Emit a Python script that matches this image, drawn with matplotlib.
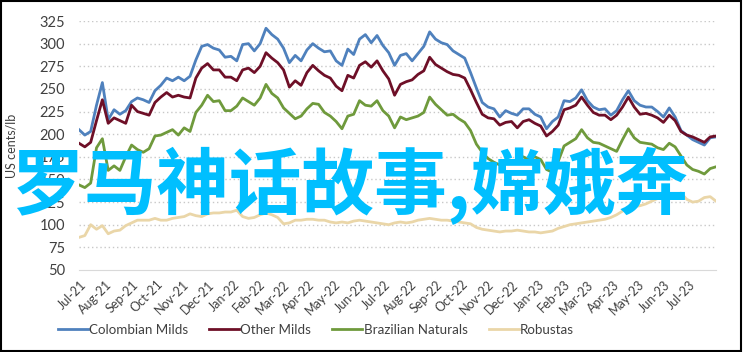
import numpy as np
import pandas as pd
import matplotlib
matplotlib.use("Agg")
import matplotlib.pyplot as plt
import matplotlib.dates as mdates
from matplotlib.patches import Rectangle

plt.rcParams['font.family'] = ['Lato', 'DejaVu Sans']

# weekly prices, US cents/lb
dates = pd.date_range('2021-06-30', periods=110, freq='7D')

colombian = [205, 199, 203, 232, 257, 216, 227, 222, 226, 236,
             240, 238, 235, 248, 254, 262, 259, 263, 259, 264,
             282, 297, 299, 295, 293, 285, 286, 281, 299, 300,
             292, 300, 317, 310, 305, 295, 279, 287, 281, 293,
             300, 295, 291, 292, 281, 276, 294, 288, 305, 310,
             301, 309, 298, 290, 276, 287, 289, 281, 289, 297,
             313, 305, 301, 299, 292, 288, 284, 268, 251, 235,
             230, 228, 219, 226, 223, 221, 228, 228, 222, 219,
             206, 214, 219, 237, 236, 240, 249, 237, 230, 227,
             228, 221, 226, 238, 248, 237, 232, 230, 230, 225,
             219, 229, 219, 204, 199, 194, 191, 188, 196, 197]

other_milds = [190, 186, 191, 215, 238, 212, 218, 215, 212, 232,
               225, 223, 221, 235, 241, 246, 241, 243, 241, 240,
               262, 273, 278, 271, 271, 263, 263, 259, 271, 273,
               268, 275, 290, 284, 279, 271, 252, 259, 254, 268,
               276, 270, 265, 262, 253, 248, 265, 262, 276, 280,
               274, 281, 270, 261, 243, 255, 258, 260, 266, 270,
               285, 277, 273, 269, 266, 265, 262, 249, 235, 222,
               218, 217, 210, 213, 214, 207, 214, 216, 212, 209,
               198, 203, 210, 227, 229, 232, 241, 232, 224, 221,
               221, 216, 221, 230, 241, 230, 222, 223, 221, 218,
               213, 221, 215, 203, 199, 197, 194, 191, 197, 198]

brazilian = [144, 141, 146, 185, 195, 160, 165, 160, 175, 188,
             183, 180, 184, 198, 199, 202, 205, 199, 207, 203,
             224, 232, 243, 236, 237, 226, 226, 231, 240, 236,
             232, 240, 255, 245, 240, 229, 223, 217, 220, 228,
             234, 233, 224, 220, 214, 206, 220, 222, 237, 232,
             231, 237, 226, 220, 207, 219, 216, 218, 220, 224,
             241, 233, 227, 221, 222, 217, 213, 204, 189, 180,
             173, 169, 166, 168, 170, 171, 175, 172, 175, 172,
             161, 158, 170, 187, 191, 195, 205, 196, 191, 190,
             187, 184, 181, 194, 206, 196, 191, 190, 189, 185,
             183, 190, 186, 176, 166, 161, 159, 156, 162, 164]

robustas = [86, 88, 100, 95, 99, 90, 93, 94, 99, 102,
            105, 105, 105, 107, 105, 105, 107, 108, 109, 112,
            110, 109, 112, 113, 113, 114, 114, 116, 109, 107,
            108, 111, 113, 111, 108, 101, 102, 105, 105, 106,
            106, 105, 105, 103, 102, 103, 102, 104, 105, 104,
            103, 102, 101, 100, 102, 103, 102, 103, 105, 106,
            107, 106, 105, 105, 104, 103, 102, 101, 97, 95,
            94, 93, 92, 93, 93, 94, 93, 92, 92, 91,
            92, 93, 96, 98, 100, 101, 102, 103, 104, 105,
            106, 108, 111, 115, 118, 120, 121, 123, 126, 129,
            130, 131, 133, 135, 128, 125, 126, 130, 131, 126]

series = [("Colombian Milds", colombian, "#4f81bd"),
          ("Other Milds", other_milds, "#6e0f27"),
          ("Brazilian Naturals", brazilian, "#6f9a3c"),
          ("Robustas", robustas, "#ead6a8")]

yticks = list(range(50, 326, 25))
tick_months = pd.date_range('2021-07-01', '2023-07-01', freq='MS')

fig = plt.figure(figsize=(7.43, 3.52), dpi=100)
ax = fig.add_axes([0.1063, 0.2330, 0.8574, 0.7073])

for name, vals, col in series:
    ax.plot(dates, vals, color=col, lw=2.0, label=name)

ax.set_ylim(50, 325)
ax.set_xlim(dates[0], dates[-1])
ax.set_yticks(yticks)
ax.set_xticks(tick_months)
ax.xaxis.set_major_formatter(mdates.DateFormatter('%b-%y'))
ax.tick_params(length=0, colors='#404040', labelsize=10.5)
ax.tick_params(axis='y', pad=10)
ax.tick_params(axis='x', pad=6, labelsize=9)
for lab in ax.get_xticklabels():
    lab.set_rotation(45)
    lab.set_ha('right')
    lab.set_rotation_mode('anchor')

for v in yticks[1:]:
    ax.axhline(v, color='#c8c8c8', lw=1.0, ls=(0, (1, 2)), zorder=0)
for s in ['top', 'right', 'left']:
    ax.spines[s].set_visible(False)
ax.spines['bottom'].set_color('#d9d9d9')

ax.set_ylabel('US cents/lb', fontsize=9, color='#404040')
ax.yaxis.set_label_coords(-0.097, 0.5)

fig.legend(loc='center', bbox_to_anchor=(0.425, 0.0625), ncol=4, frameon=False,
           fontsize=9.6, handlelength=2.25, handletextpad=0.1, columnspacing=1.58,
           labelcolor='#404040')

fig.text(0.471, 0.472, '罗马神话故事,嫦娥奔', fontsize=52.3, fontweight='bold',
         color='#00bfff', ha='center', va='center',
         family=['Noto Sans CJK SC', 'DejaVu Sans'])

fig.patches.append(Rectangle((0.001, 0.002), 0.996, 0.995, transform=fig.transFigure,
                             fill=False, edgecolor='black', lw=1.5))

fig.savefig('out.png', dpi=100)
